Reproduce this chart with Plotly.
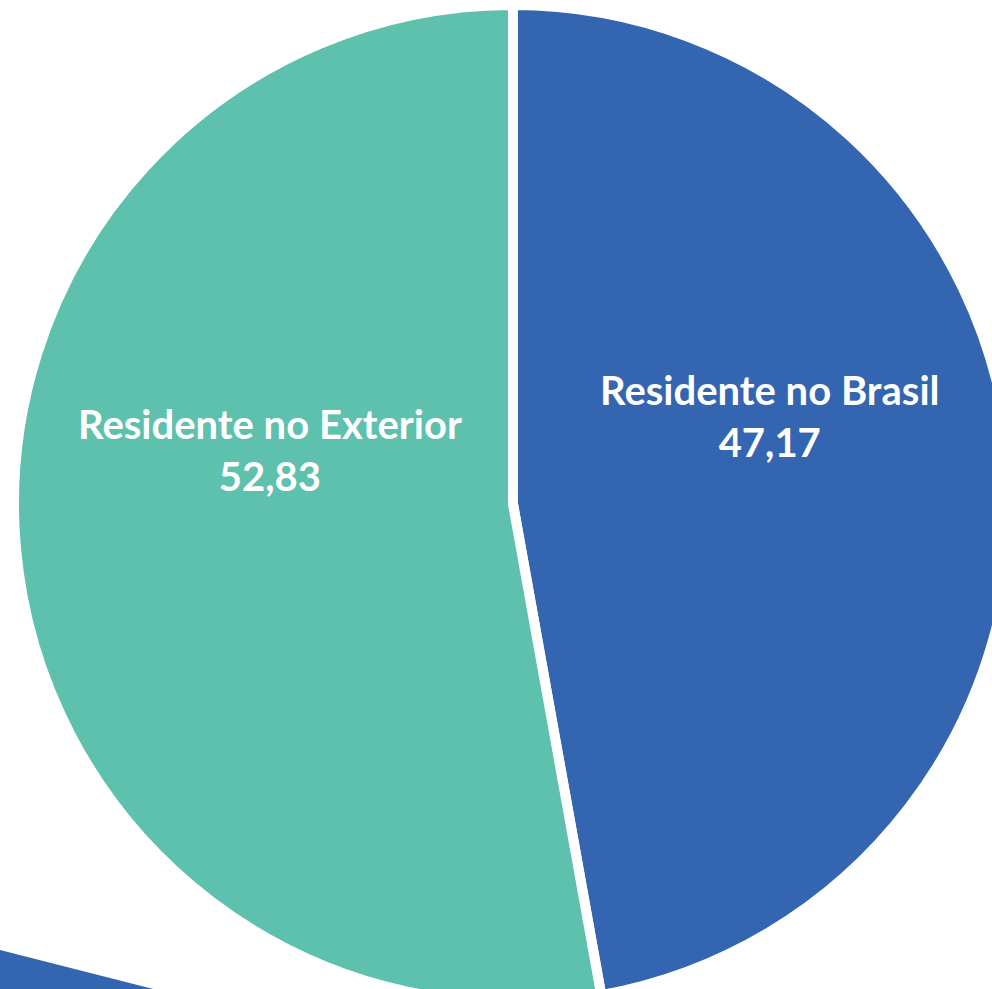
import plotly.graph_objects as go

labels = ["Residente no Brasil", "Residente no Exterior"]
values = [47.17, 52.83]
colors = ["#3365B0", "#5DC1AE"]

W, H = 1026, 1006
ML, MR, MT, MB = 14, 14, 5, 3
PW, PH = W - ML - MR, H - MT - MB


def px(x, y):
    return (x - ML) / PW, 1 - (y - MT) / PH


fig = go.Figure(go.Pie(
    labels=labels, values=values, sort=False, direction="clockwise", rotation=0,
    marker=dict(colors=colors, line=dict(color="white", width=10)),
    textinfo="none", hoverinfo="label+value", showlegend=False,
))

label_pos = [(769, 416), (270, 450)]
for lab, val, (x, y) in zip(labels, values, label_pos):
    ax, ay = px(x, y)
    fig.add_annotation(
        x=ax, y=ay, xref="paper", yref="paper", showarrow=False,
        text=f"<b>{lab}</b><br><b>{val:.2f}".replace(".", ",") + "</b>",
        font=dict(family="Lato", size=40, color="white"), align="center",
        xanchor="center", yanchor="middle",
    )

x0, y0 = px(0, 950)
x1, y1 = px(165, 992)
x2, y2 = px(0, 992)
fig.add_shape(type="path", xref="paper", yref="paper",
              path=f"M {x0} {y0} L {x1} {y1} L {x2} {y2} Z",
              fillcolor="#3365B0", line=dict(width=0))

fig.update_layout(
    width=W, height=H, margin=dict(l=ML, r=MR, t=MT, b=MB),
    paper_bgcolor="white", plot_bgcolor="white",
)

fig.write_html("out.html", config={"displayModeBar": False}, post_script=(
    "document.body.style.margin='0';document.body.style.overflow='hidden';"
    "document.documentElement.style.overflow='hidden';"))
